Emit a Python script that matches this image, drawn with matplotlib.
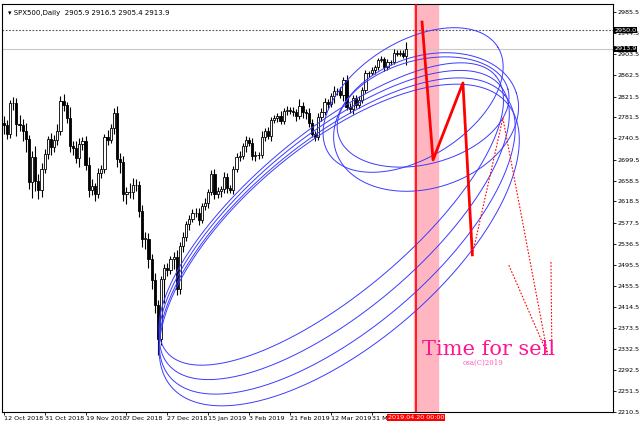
import matplotlib
matplotlib.use("Agg")
import matplotlib.pyplot as plt
import numpy as np

# daily closes SPX500, 12 Oct 2018 .. 18 Apr 2019
closes = [2767, 2750, 2809, 2809, 2768, 2767, 2755, 2740, 2656, 2705, 2658, 2641, 2682, 2711,
          2740, 2723, 2738, 2755, 2814, 2806, 2781, 2726, 2722, 2702, 2730, 2736, 2690, 2641,
          2649, 2633, 2674, 2682, 2744, 2738, 2760,
          2790, 2700, 2695, 2633, 2637, 2636, 2651, 2650, 2599, 2546, 2546, 2507, 2467, 2417,
          2351, 2468, 2489, 2486, 2507,
          2510, 2448, 2532, 2550, 2574, 2585, 2597, 2596, 2583, 2610, 2616, 2636, 2671, 2633,
          2639, 2643, 2665, 2644, 2641, 2681, 2704,
          2707, 2725, 2738, 2732, 2706, 2708, 2709, 2744, 2754, 2746, 2776, 2780, 2784, 2775,
          2793, 2796, 2793, 2792, 2784,
          2804, 2792, 2789, 2771, 2749, 2743, 2783, 2792, 2811, 2808, 2822, 2833, 2832, 2824,
          2854, 2801, 2798, 2818, 2805, 2815, 2834,
          2867, 2867, 2873, 2879, 2893, 2895, 2878, 2888, 2888, 2907, 2905, 2907, 2900, 2914]
first_open = 2770
wick_up = [14, 9, 6, 12, 10, 18, 12, 15, 8, 12, 20, 14, 10, 9, 6, 12, 10, 14, 8, 12, 6, 20,
           10, 14, 12, 8, 9, 14, 12, 6, 10, 8, 6, 12, 8, 10, 14, 12, 12, 10, 18, 12, 10, 9,
           12, 14, 12, 10, 12, 10, 6, 8, 10, 6, 10, 14, 8, 10, 6, 8, 6, 8, 10, 6, 10, 6, 8,
           10, 8, 6, 10, 8, 6, 6, 8, 10, 6, 8, 6, 10, 8, 6, 10, 6, 8, 6, 6, 6, 10, 6, 8, 6,
           8, 6, 12, 8, 6, 10, 8, 6, 6, 8, 8, 6, 6, 10, 6, 8, 6, 10, 8, 6, 6, 8, 6, 6, 4,
           6, 4, 4, 6, 4, 6, 4, 6, 4, 4, 4]
wick_dn = [18, 10, 8, 14, 22, 12, 20, 25, 14, 30, 20, 18, 14, 8, 10, 14, 8, 10, 8, 12, 10,
           12, 14, 10, 16, 12, 10, 14, 10, 14, 8, 10, 8, 10, 6, 10, 14, 22, 14, 20, 10, 12,
           12, 10, 16, 20, 18, 18, 14, 30, 10, 46, 12, 8, 20, 10, 8, 12, 8, 10, 6, 8, 10, 6,
           8, 10, 6, 10, 8, 12, 8, 10, 6, 8, 6, 8, 6, 10, 6, 8, 10, 8, 6, 8, 6, 10, 6, 8, 6,
           6, 8, 6, 8, 10, 6, 12, 10, 8, 6, 8, 6, 8, 6, 10, 6, 12, 8, 6, 10, 6, 8, 10, 6, 6,
           6, 6, 8, 4, 8, 6, 4, 6, 4, 6, 4, 4, 4, 4]
date_labels = ["12 Oct 2018", "31 Oct 2018", "19 Nov 2018", "7 Dec 2018", "27 Dec 2018",
               "15 Jan 2019", "3 Feb 2019", "21 Feb 2019", "12 Mar 2019", "31 Mar"]
yticks = [2210.5, 2251.5, 2292.5, 2332.5, 2373.5, 2414.5, 2455.5, 2495.5, 2536.5, 2577.5,
          2618.5, 2658.5, 2699.5, 2740.5, 2781.5, 2821.5, 2862.5, 2903.5, 2944.5, 2985.5]

# forecast drawing (bar index, price)
zig_x = [133, 136.5, 146, 149]
zig_y = [2966, 2699, 2848, 2515]
dots = [([149, 158.7], [2515, 2780]), ([158.7, 173], [2780, 2321]),
        ([160.6, 173], [2495, 2321]), ([174, 174.3], [2501, 2321])]
# ellipses in screen pixels: cx, cy, a, b, angle
ellipses = [(330, 214, 215, 80, 40), (333, 225, 217, 87, 40), (336, 236, 219, 94, 40),
            (338, 245, 220, 100, 40), (422, 112, 88, 52, 15), (425, 122, 95, 66, 18),
            (412, 100, 100, 58, 32)]

fig = plt.figure(figsize=(6.4, 4.25), dpi=100)
ax = fig.add_axes([0.003, 1 - 412 / 425, 611 / 640, 408 / 425])
ax.set_xlim(-0.6, 193.7)
ax.set_ylim(2210.5, 3001)

n = len(closes)
opens = [first_open] + closes[:-1]
for i in range(n):
    o, c = opens[i], closes[i]
    hi = max(o, c) + wick_up[i % len(wick_up)]
    lo = min(o, c) - wick_dn[i % len(wick_dn)]
    ax.vlines(i, lo, hi, color="black", lw=0.8, zorder=3)
    face = "white" if c >= o else "black"
    ax.bar(i, max(abs(c - o), 1), bottom=min(o, c), width=0.7, color=face,
           edgecolor="black", lw=0.6, zorder=4)

def px2data(px, py):
    return (px - 2) / 3.15, 2985.5 - (py - 12) * 1.9375

t = np.linspace(0, 2 * np.pi, 400)
for cx, cy, a, b, ang in ellipses:
    th = np.radians(ang)
    px = cx + a * np.cos(t) * np.cos(th) - b * np.sin(t) * np.sin(th)
    py = cy - (a * np.cos(t) * np.sin(th) + b * np.sin(t) * np.cos(th))
    ex, ey = px2data(px, py)
    ax.plot(ex, ey, color="#3b3bff", lw=0.7, zorder=5)

ax.axvspan(130.5, 138, color="#ffb6c1", zorder=1)
ax.axvline(131, color="red", lw=1.2, zorder=6)
ax.axhline(2950, color="#555555", lw=0.8, ls=(0, (1.5, 1.5)), zorder=2)
ax.axhline(2913.9, color="#c8c8c8", lw=0.8, zorder=2)
ax.plot(zig_x, zig_y, color="red", lw=2, zorder=7)
for xs, ys in dots:
    ax.plot(xs, ys, color="red", lw=0.8, ls=(0, (1.5, 1.5)), zorder=7)

ax.text(133, 2321, "Time for sell", color="#ff1493", fontsize=15, family="DejaVu Serif",
        zorder=8)
ax.text(146, 2301, "osa(C)2019", color="#ff1493", fontsize=5, family="DejaVu Serif",
        alpha=0.7, zorder=8)

ax.text(0.01, 0.985, "▾ SPX500,Daily  2905.9 2916.5 2905.4 2913.9", transform=ax.transAxes,
        fontsize=5, va="top")

ax.yaxis.tick_right()
ax.set_yticks(yticks)
ax.set_yticklabels([f"{v:.1f}" for v in yticks], fontsize=4.6)
ax.set_xticks([13 * k for k in range(len(date_labels))])
ax.set_xticklabels(date_labels, fontsize=4.6, ha="left")
ax.tick_params(length=2, width=0.6, pad=1)
for s in ax.spines.values():
    s.set_linewidth(0.8)
for val, y in [(2950.0, 2950), (2913.9, 2913.9)]:
    ax.text(1.002, y, f"{val:.1f}", transform=ax.get_yaxis_transform(), fontsize=4.6,
            color="white", va="center", ha="left",
            bbox=dict(boxstyle="square,pad=0.1", fc="black", ec="none"), zorder=9)
ax.text(131, 2205, "2019.04.20 00:00", fontsize=4.6, color="white", va="top", ha="center",
        bbox=dict(boxstyle="square,pad=0.15", fc="red", ec="none"), clip_on=False)

fig.savefig("out.png", dpi=100)
